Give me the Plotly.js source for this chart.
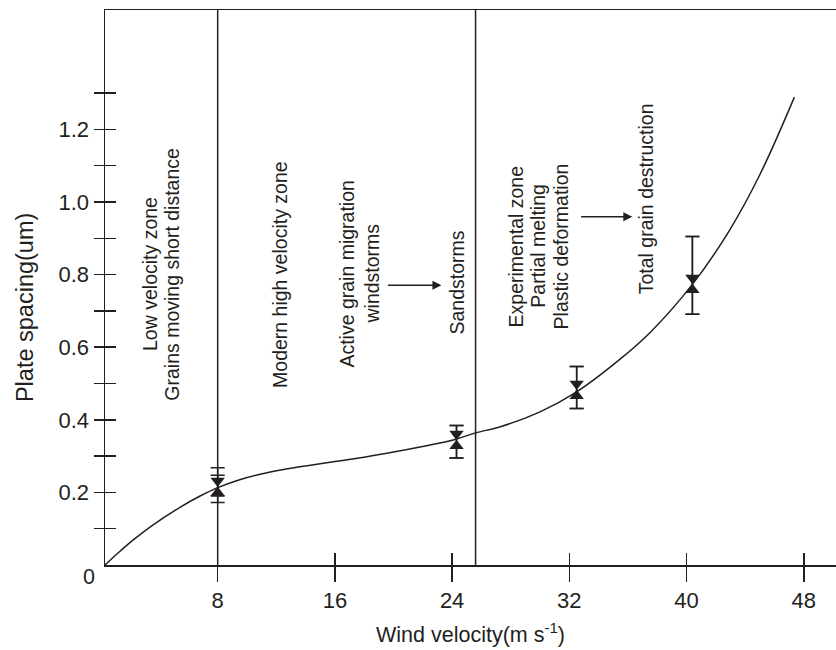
<!DOCTYPE html>
<html>
<head>
<meta charset="utf-8">
<script src="https://cdn.plot.ly/plotly-3.0.1.min.js"></script>
<style>html,body{margin:0;padding:0;background:#fff;}#chart{width:836px;height:650px;}</style>
</head>
<body>
<div id="chart"></div>
<script>
// ---- data ----
const curveX = [0.31, 1.2, 2.24, 3.5, 5.43, 6.8, 8, 9.5, 10.9, 12.5, 14, 16, 18, 20, 21.8, 24.2, 25.6, 27.3, 30, 32.5, 35.4, 37.5, 40.4, 42.9, 45, 47.36];
const curveY = [0, 0.033, 0.069, 0.108, 0.159, 0.19, 0.213, 0.235, 0.25, 0.263, 0.273, 0.285, 0.297, 0.311, 0.325, 0.346, 0.364, 0.381, 0.422, 0.477, 0.565, 0.64, 0.773, 0.92, 1.075, 1.289];

const pointX = [8, 24.3, 32.5, 40.4];
const downY = [0.232, 0.361, 0.499, 0.791];   // triangle-down markers (upper)
const upY   = [0.199, 0.328, 0.466, 0.758];   // triangle-up markers (lower)
const downHigh = [0.268, 0.384, 0.547, 0.905];
const downLow  = [0.190, 0.295, 0.431, 0.691];
const upHigh   = [0.247, 0.384, 0.547, 0.905];
const upLow    = [0.172, 0.295, 0.431, 0.691];

const zoneBounds = [8, 25.6];

const xTickVals = [8, 16, 24, 32, 40, 48];
const xTickText = ['8', '16', '24', '32', '40', '48'];
const yTickVals = [0.1, 0.2, 0.3, 0.4, 0.5, 0.6, 0.7, 0.8, 0.9, 1.0, 1.1, 1.2, 1.3];
const yTickText = ['', '0.2', '', '0.4', '', '0.6', '', '0.8', '', '1.0', '', '1.2', ''];

const labelLines = [
  'Low velocity zone', 'Grains moving short distance',
  'Modern high velocity zone',
  'Active grain migration', 'windstorms',
  'Sandstorms',
  'Experimental zone', 'Partial melting', 'Plastic deformation',
  'Total grain destruction'
];

const xTitle = 'Wind velocity(m s<sup>-1</sup>)';
const yTitle = 'Plate spacing(um)';

// ---- styling / placement ----
const ink = '#231f20';
const fontFam = '"Liberation Sans", Arial, Helvetica, sans-serif';
const xRange = [0.31, 50.2];
const yRange = [0, 1.529];

const diff = (a, b) => a.map((v, i) => v - b[i]);

const traces = [
  {
    x: curveX, y: curveY, type: 'scatter', mode: 'lines',
    line: {color: ink, width: 1.5, shape: 'spline', smoothing: 1},
    xaxis: 'x2', yaxis: 'y2', hoverinfo: 'skip', showlegend: false
  },
  {
    x: pointX, y: downY, type: 'scatter', mode: 'markers',
    marker: {symbol: 'triangle-down', size: 12.5, color: ink},
    error_y: {type: 'data', symmetric: false, array: diff(downHigh, downY), arrayminus: diff(downY, downLow),
              color: ink, thickness: 1.5, width: 7},
    showlegend: false
  },
  {
    x: pointX, y: upY, type: 'scatter', mode: 'markers',
    marker: {symbol: 'triangle-up', size: 12.5, color: ink},
    error_y: {type: 'data', symmetric: false, array: diff(upHigh, upY), arrayminus: diff(upY, upLow),
              color: ink, thickness: 1.5, width: 7},
    showlegend: false
  }
];

// placement of each rotated text line (x, y in data units)
const linePos = [
  [3.38, 0.8017], [4.86, 0.8017],
  [12.25, 0.8017],
  [16.80, 0.8017], [18.50, 0.8017],
  [24.30, 0.7769],
  [28.39, 0.8788], [29.84, 0.8788], [31.46, 0.8788],
  [37.25, 1.0083]
];
const annotations = labelLines.map((t, i) => ({
  x: linePos[i][0], y: linePos[i][1], xref: 'x', yref: 'y',
  text: t, showarrow: false, textangle: -90,
  font: {family: fontFam, size: 19.5, color: ink},
  xanchor: 'center', yanchor: 'middle', align: 'center'
}));
// arrows
annotations.push({x: 23.27, y: 0.771, ax: 19.52, ay: 0.771, xref: 'x', yref: 'y', axref: 'x', ayref: 'y',
  text: '', showarrow: true, arrowhead: 2, arrowsize: 1.2, arrowwidth: 1.5, arrowcolor: ink});
annotations.push({x: 36.3, y: 0.9595, ax: 32.7, ay: 0.9595, xref: 'x', yref: 'y', axref: 'x', ayref: 'y',
  text: '', showarrow: true, arrowhead: 2, arrowsize: 1.2, arrowwidth: 1.5, arrowcolor: ink});
// corner zero label
annotations.push({x: xRange[0], y: 0, xref: 'x', yref: 'y', text: '0', showarrow: false,
  xanchor: 'right', yanchor: 'middle', xshift: -8, yshift: -12,
  font: {family: fontFam, size: 21.5, color: ink}});
// y axis title (placed slightly below the plot's middle, as in the reference)
annotations.push({x: -0.1094, y: 0.463, xref: 'paper', yref: 'paper', text: yTitle, showarrow: false,
  textangle: -90, xanchor: 'center', yanchor: 'middle',
  font: {family: fontFam, size: 23.5, color: ink}});

const shapes = zoneBounds.map(b => ({
  type: 'line', xref: 'x', yref: 'paper', x0: b, x1: b, y0: 0, y1: 1,
  line: {color: ink, width: 1.5}, layer: 'below'
}));

const layout = {
  width: 836, height: 650,
  margin: {l: 105, r: 0, t: 10, b: 85},
  paper_bgcolor: '#fff', plot_bgcolor: '#fff',
  font: {family: fontFam, color: ink},
  showlegend: false,
  xaxis: {
    range: xRange, showline: true, linecolor: ink, linewidth: 1.5, mirror: true,
    ticks: 'outside', ticklen: 15, tickwidth: 1.5, tickcolor: ink,
    tickmode: 'array', tickvals: xTickVals, ticktext: xTickText,
    tickfont: {family: fontFam, size: 22, color: ink},
    showgrid: false, zeroline: false,
    title: {text: xTitle, font: {family: fontFam, size: 21.5, color: ink}, standoff: 15}
  },
  yaxis: {
    range: yRange, showline: true, linecolor: ink, linewidth: 1.5,
    ticks: 'outside', ticklen: 10, tickwidth: 1.5, tickcolor: ink,
    tickmode: 'array', tickvals: yTickVals, ticktext: yTickText,
    tickfont: {family: fontFam, size: 22, color: ink},
    showgrid: false, zeroline: false
  },
  xaxis2: {
    range: xRange, overlaying: 'x', anchor: 'y2', showline: false,
    ticks: 'inside', ticklen: 12, tickwidth: 1.5, tickcolor: ink,
    tickmode: 'array', tickvals: xTickVals, showticklabels: false,
    showgrid: false, zeroline: false
  },
  yaxis2: {
    range: yRange, overlaying: 'y', anchor: 'x2', side: 'left', showline: false,
    ticks: 'inside', ticklen: 11, tickwidth: 1.5, tickcolor: ink,
    tickmode: 'array', tickvals: yTickVals, showticklabels: false,
    showgrid: false, zeroline: false
  },
  annotations: annotations,
  shapes: shapes
};

Plotly.newPlot('chart', traces, layout, {displayModeBar: false, staticPlot: true});
</script>
</body>
</html>
